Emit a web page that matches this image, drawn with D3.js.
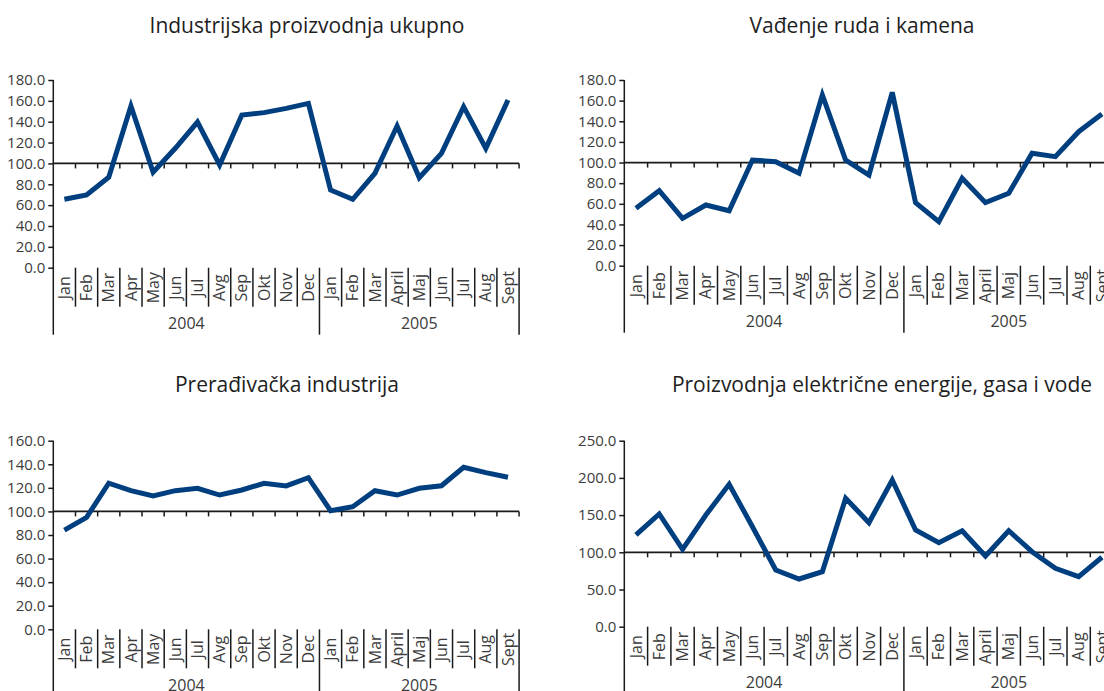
<!DOCTYPE html>
<html>
<head>
<meta charset="utf-8">
<script src="https://cdn.jsdelivr.net/npm/d3@7"></script>
<style>
  body { margin: 0; background: #fff; }
  text { font-family: "Open Sans", "Noto Sans", sans-serif; }
</style>
</head>
<body>
<div id="chart"></div>
<script>
var months2004 = ["Jan", "Feb", "Mar", "Apr", "May", "Jun", "Jul", "Avg", "Sep", "Okt", "Nov", "Dec"];
var months2005 = ["Jan", "Feb", "Mar", "April", "Maj", "Jun", "Jul", "Aug", "Sept"];
var years = ["2004", "2005"];

var titles = [
  "Industrijska proizvodnja ukupno",
  "Vađenje ruda i kamena",
  "Prerađivačka industrija",
  "Proizvodnja električne energije, gasa i vode"
];

// indices, 2004 Jan .. 2005 Sept
var ukupno = [65.6, 69.7, 86.7, 155.0, 91.5, 114.5, 139.7, 98.5, 146.4, 148.7, 152.8, 157.6,
              74.5, 65.6, 90.5, 135.9, 86.3, 109.7, 154.4, 114.5, 160.8];
var vadjenje = [55.6, 72.7, 45.9, 58.8, 53.3, 102.4, 100.8, 89.6, 165.5, 102.4, 87.9, 168.0,
                61.1, 42.6, 84.7, 61.1, 70.2, 109.0, 105.7, 129.9, 147.0];
var preradjivacka = [84.2, 95.0, 123.9, 117.6, 113.1, 117.6, 119.6, 113.9, 118.2, 123.9, 121.6, 128.6,
                     100.6, 104.0, 117.6, 113.9, 119.6, 121.8, 137.4, 132.9, 129.0];
var energija = [123.3, 151.5, 104.0, 150.1, 191.4, 134.4, 76.2, 64.1, 73.9, 172.6, 139.8, 197.2,
                130.0, 112.9, 129.0, 95.0, 129.0, 100.8, 78.5, 67.2, 93.3];

var ticks180 = [0, 20, 40, 60, 80, 100, 120, 140, 160, 180];
var ticks160 = [0, 20, 40, 60, 80, 100, 120, 140, 160];
var ticks250 = [0, 50, 100, 150, 200, 250];
var baseValue = 100;

var width = 1104, height = 691;
var lineColor = "#003f7f",
    axisColor = "#1a1a1a",
    textColor = "#3c3c3c";

var months = months2004.concat(months2005);
var n = months.length;

// layout of the four panels
var panels = [
  { title: titles[0], values: ukupno, ticks: ticks180, x0: 53.3, band: 22.18, y0: 267.7, top: 80, tx: 307, ty: 33 },
  { title: titles[1], values: vadjenje, ticks: ticks180, x0: 624.3, band: 23.3, y0: 265.7, top: 80, tx: 862, ty: 33 },
  { title: titles[2], values: preradjivacka, ticks: ticks160, x0: 53.3, band: 22.18, y0: 629.3, top: 440.7, tx: 287, ty: 392 },
  { title: titles[3], values: energija, ticks: ticks250, x0: 624.3, band: 23.3, y0: 626.7, top: 440.7, tx: 882, ty: 392 }
];

var svg = d3.select("#chart").append("svg")
  .attr("width", width)
  .attr("height", height)
  .style("display", "block");

panels.forEach(function(p) {
  var g = svg.append("g");
  var xEnd = p.x0 + n * p.band;
  var yMax = d3.max(p.ticks);

  var x = d3.scaleBand()
    .domain(d3.range(n))
    .range([p.x0, xEnd]);

  var y = d3.scaleLinear()
    .domain([0, yMax])
    .range([p.y0, p.top]);

  // boundary position of category i (0..n)
  var edge = function(i) { return i < n ? x(i) : xEnd; };

  // title
  g.append("text")
    .attr("x", p.tx)
    .attr("y", p.ty)
    .attr("text-anchor", "middle")
    .style("font-size", "21px")
    .style("fill", "#1e1e1e")
    .text(p.title);

  // y axis
  var yAxis = g.append("g")
    .attr("transform", "translate(" + p.x0 + ",0)")
    .call(d3.axisLeft(y)
      .tickValues(p.ticks)
      .tickFormat(d3.format(".1f"))
      .tickSize(5)
      .tickPadding(3));
  yAxis.select(".domain").remove();
  yAxis.selectAll("line").attr("stroke", axisColor).attr("stroke-width", 1.5);
  yAxis.selectAll("text")
    .style("font-size", "15px")
    .style("fill", textColor)
    .attr("font-family", null);

  g.append("line")
    .attr("x1", p.x0).attr("x2", p.x0)
    .attr("y1", y(yMax)).attr("y2", p.y0 + 67)
    .attr("stroke", axisColor).attr("stroke-width", 1.5);

  // reference line at 100 with ticks on category boundaries
  g.append("line")
    .attr("x1", p.x0).attr("x2", xEnd)
    .attr("y1", y(baseValue)).attr("y2", y(baseValue))
    .attr("stroke", axisColor).attr("stroke-width", 1.8);

  g.selectAll(".btick")
    .data(d3.range(1, n + 1))
    .enter().append("line")
    .attr("class", "btick")
    .attr("x1", edge).attr("x2", edge)
    .attr("y1", y(baseValue)).attr("y2", y(baseValue) + 5)
    .attr("stroke", axisColor).attr("stroke-width", 1.5);

  // month separators below the plot
  g.selectAll(".msep")
    .data(d3.range(1, n).filter(function(i) { return i !== months2004.length; }))
    .enter().append("line")
    .attr("class", "msep")
    .attr("x1", edge).attr("x2", edge)
    .attr("y1", p.y0).attr("y2", p.y0 + 39)
    .attr("stroke", axisColor).attr("stroke-width", 1.5);

  // year separators
  g.selectAll(".ysep")
    .data([months2004.length, n])
    .enter().append("line")
    .attr("class", "ysep")
    .attr("x1", edge).attr("x2", edge)
    .attr("y1", p.y0).attr("y2", p.y0 + 67)
    .attr("stroke", axisColor).attr("stroke-width", 1.5);

  // month labels, rotated
  g.selectAll(".mlabel")
    .data(months)
    .enter().append("text")
    .attr("class", "mlabel")
    .attr("transform", function(d, i) {
      return "translate(" + (x(i) + x.bandwidth() / 2) + "," + (p.y0 + 20) + ") rotate(-90)";
    })
    .attr("text-anchor", "middle")
    .attr("dy", "0.35em")
    .style("font-size", "16px")
    .style("fill", textColor)
    .text(function(d) { return d; });

  // year labels
  var yearSpans = [[0, months2004.length], [months2004.length, n]];
  g.selectAll(".ylabel")
    .data(years)
    .enter().append("text")
    .attr("class", "ylabel")
    .attr("x", function(d, i) { return (edge(yearSpans[i][0]) + edge(yearSpans[i][1])) / 2; })
    .attr("y", p.y0 + 56)
    .attr("dy", "0.35em")
    .attr("text-anchor", "middle")
    .style("font-size", "16px")
    .style("fill", textColor)
    .text(function(d) { return d; });

  // the series
  var line = d3.line()
    .x(function(d, i) { return x(i) + x.bandwidth() / 2; })
    .y(function(d) { return y(d); });

  g.append("path")
    .datum(p.values)
    .attr("d", line)
    .attr("fill", "none")
    .attr("stroke", lineColor)
    .attr("stroke-width", 5)
    .attr("stroke-linejoin", "miter");
});
</script>
</body>
</html>
